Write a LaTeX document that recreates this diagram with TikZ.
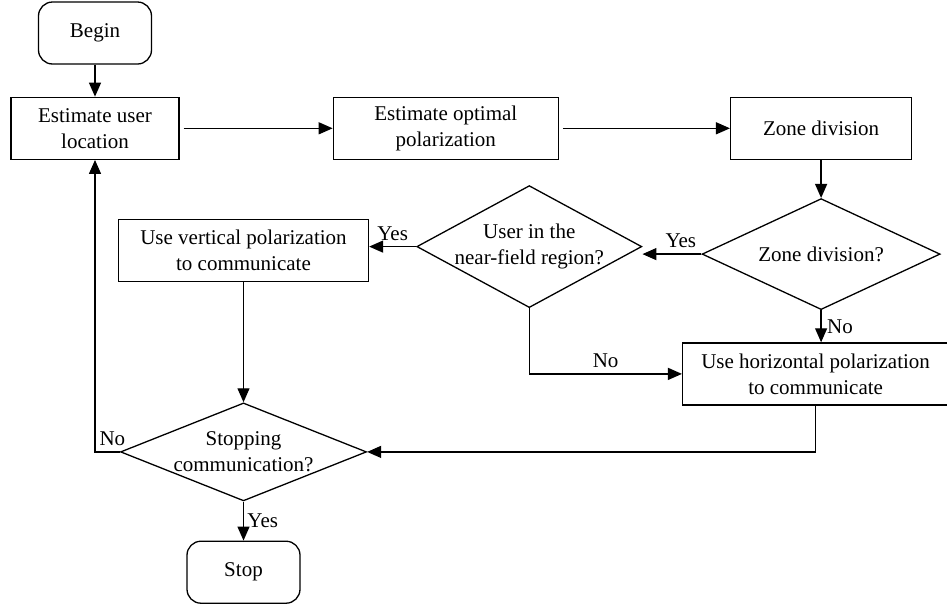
\documentclass[tikz,border=0pt]{standalone}
\usepackage{fontspec}
\setmainfont{Liberation Serif}
\usetikzlibrary{positioning,shapes.geometric,arrows.meta}
\begin{document}
\begin{tikzpicture}[x=1pt, y=1pt, line width=1.3pt, >={Triangle[length=14pt,width=12pt]},
        every node/.style = {font=\fontsize{21}{26}\selectfont},
        term/.style = {draw, rectangle, rounded corners=14pt, align=center, minimum width=113pt, minimum height=62pt},
        proc/.style = {draw, rectangle, align=center, minimum height=62pt, inner sep=0pt},
        test/.style = {draw, diamond, align=center, inner sep=-5pt}]
        \useasboundingbox (0,0) rectangle (947,-603);
        \node[term] (0) at (95,-33) {Begin};
        \node[proc, minimum width=168pt] (1) [below=32pt of 0] {Estimate user\\location};
        \node[proc, minimum width=225pt] (2) [right=153pt of 1] {Estimate optimal\\polarization};
        \node[proc, minimum width=181pt] (3) [right=171pt of 2] {Zone division};
        \node[test, aspect=2.15, minimum width=238pt, minimum height=111pt] (4) [below=38pt of 3] {Zone division?};
        \node[test, aspect=1.85, minimum width=225pt, minimum height=122pt] (5) [left=59pt of 4, yshift=7.5pt] {User in the\\near-field region?};
        \node[proc, minimum width=250pt] (6) [left=47pt of 5, yshift=-4pt] {Use vertical polarization\\to communicate};
        \node[proc, minimum width=266pt] (7) [below=32pt of 4, xshift=-5.5pt] {Use horizontal polarization\\to communicate};
        \node[test, aspect=2.5, minimum width=246pt, minimum height=98pt] (8) [below=120pt of 6] {Stopping\\communication?};
        \node[term] (9) [below=39pt of 8] {Stop};
        \draw[->] (0) -- (1);
        \draw[->, shorten <=4pt] (1) -- (2);
        \draw[->, shorten <=4pt] (2) -- (3);
        \draw[->] (3) -- (4);
        \draw[->] (4.west) -- node[above=2pt, pos=.35] {Yes} (4.west -| 5.east);
        \draw[->] (5.west) -- node[above=2pt] {Yes} (5.west -| 6.east);
        \draw[->] (5.south) |- node[above=2pt, pos=.75] {No} (7.west);
        \draw[->] (4.south) -- node[right=2pt] {No} (4.south |- 7.north);
        \draw[->] (7.south) |- (8.east);
        \draw[->] (6) -- (8);
        \draw[->] (8.west) -| node[above=2pt, pos=.15] {No} (1.south);
        \draw[->] (8) -- node[right] {Yes} (9);
    \end{tikzpicture}
\end{document}
